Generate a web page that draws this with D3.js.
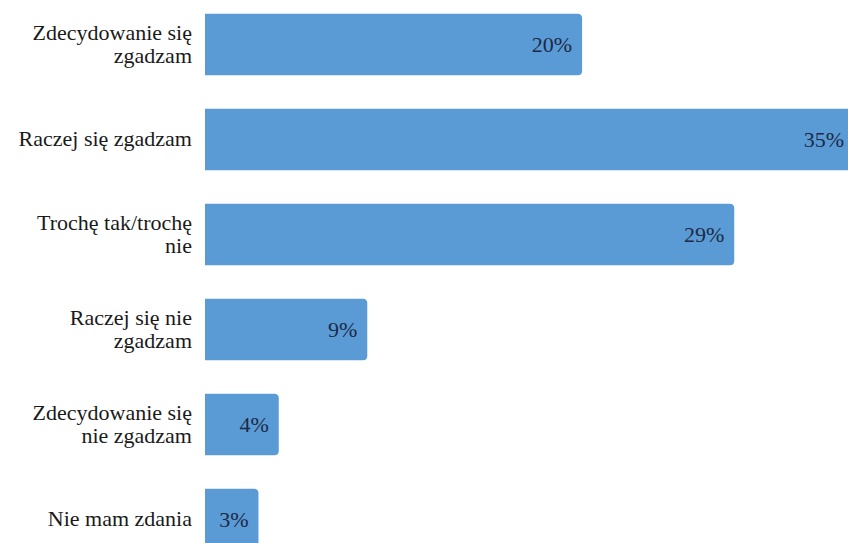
<!DOCTYPE html>
<html><head><meta charset="utf-8">
<script src="https://cdn.jsdelivr.net/npm/d3@7"></script>
</head><body style="margin:0">
<svg id="c" width="848" height="543"></svg>
<script>
const categories = ["Zdecydowanie się\nzgadzam","Raczej się zgadzam","Trochę tak/trochę\nnie","Raczej się nie\nzgadzam","Zdecydowanie się\nnie zgadzam","Nie mam zdania"];
const values = [20.45, 35.2, 28.7, 8.8, 4.0, 2.9];
const valueLabels = ["20%","35%","29%","9%","4%","3%"];

const svg = d3.select("#c");
const left = 205;
const x = d3.scaleLinear().domain([0, 40]).range([left, left + 737.6]);
const y = d3.scaleBand().domain(categories).range([13.7 - 16.75, 13.7 - 16.75 + 95*6]).paddingInner(0.3526).paddingOuter(0.1763);
const r = 4.5;
function barPath(x0, x1, y0, h){
  return `M${x0},${y0}H${x1-r}Q${x1},${y0} ${x1},${y0+r}V${y0+h-r}Q${x1},${y0+h} ${x1-r},${y0+h}H${x0}Z`;
}
function rightText(str, xr, yb, size, color){
  const t = svg.append("text").attr("x", xr).attr("y", yb)
    .style("font-family", '"Liberation Serif"').style("font-size", size + "px")
    .attr("fill", color).text(str);
  const w = t.node().getComputedTextLength();
  t.attr("x", xr - w);
  return t;
}
categories.forEach((c,i)=>{
  const y0 = y(c), h = y.bandwidth(), x1 = x(values[i]);
  svg.append("path").attr("d", barPath(x(0), x1, y0, h)).attr("fill","#5b9bd5");
  rightText(valueLabels[i], x1 - 10, y0 + h/2 + 7.5, 22, "#1c2a47");
  const lines = c.split("\n");
  const lh = 23;
  lines.forEach((ln,j)=>{
    rightText(ln, 192, y0 + h/2 + (j - (lines.length-1)/2)*lh + 7, 22, "#1a1a1a");
  });
});
</script>
</body></html>
